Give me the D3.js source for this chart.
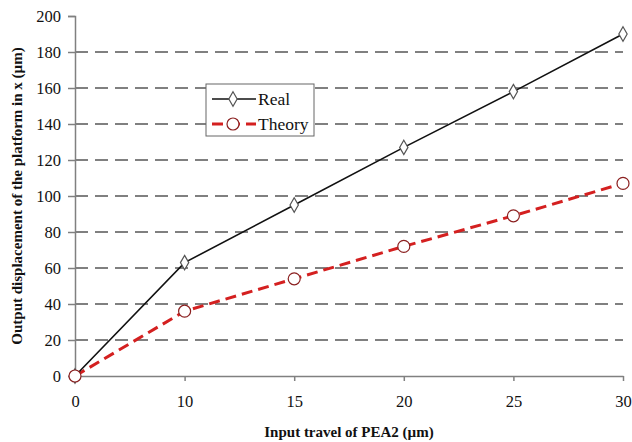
<!DOCTYPE html>
<html>
<head>
<meta charset="utf-8">
<script src="https://cdn.jsdelivr.net/npm/d3@7"></script>
<style>
  body { margin: 0; background: #fff; }
  svg { display: block; }
  text { font-family: "Liberation Serif", "DejaVu Serif", serif; }
</style>
</head>
<body>
<div id="chart"></div>
<script>
  // 数据
  const categories = ['0', '10', '15', '20', '25', '30'];
  const realValues = [0, 63, 95, 127, 158, 190];
  const theoryValues = [0, 36, 54, 72, 89, 107];
  const yTicks = [0, 20, 40, 60, 80, 100, 120, 140, 160, 180, 200];

  const width = 632, height = 442;
  const margin = { left: 75, right: 9, top: 16, bottom: 66 };

  const svg = d3.select('#chart').append('svg')
    .attr('width', width)
    .attr('height', height);

  const x = d3.scalePoint()
    .domain(categories)
    .range([margin.left, width - margin.right]);

  const y = d3.scaleLinear()
    .domain([0, 200])
    .range([height - margin.bottom, margin.top]);

  // 网格线
  svg.append('g')
    .selectAll('line')
    .data(yTicks.filter(d => d > 0 && d < 200))
    .enter()
    .append('line')
    .attr('x1', margin.left)
    .attr('x2', width - margin.right)
    .attr('y1', d => y(d))
    .attr('y2', d => y(d))
    .attr('stroke', '#808080')
    .attr('stroke-width', 2)
    .attr('stroke-dasharray', '13,7');

  // Y 轴
  const yAxis = svg.append('g')
    .attr('transform', `translate(${margin.left},0)`)
    .call(d3.axisLeft(y).tickValues(yTicks).tickSize(7).tickPadding(7));
  yAxis.select('.domain').attr('stroke', '#808080').attr('stroke-width', 1.5);
  yAxis.selectAll('.tick line').attr('stroke', '#808080').attr('stroke-width', 1.5);
  yAxis.selectAll('.tick text')
    .attr('font-size', '16.5px')
    .attr('font-family', '"Liberation Serif", serif')
    .attr('fill', '#111');

  // X 轴
  const xAxis = svg.append('g')
    .attr('transform', `translate(0,${y(0)})`)
    .call(d3.axisBottom(x).tickSize(5).tickSizeOuter(0).tickPadding(14));
  xAxis.select('.domain').attr('stroke', '#808080').attr('stroke-width', 1.5);
  xAxis.selectAll('.tick line').attr('stroke', '#808080').attr('stroke-width', 1.5);
  xAxis.selectAll('.tick text')
    .attr('font-size', '16.5px')
    .attr('font-family', '"Liberation Serif", serif')
    .attr('fill', '#111');

  // 轴标题
  svg.append('text')
    .attr('x', (margin.left + width - margin.right) / 2)
    .attr('y', 437)
    .attr('text-anchor', 'middle')
    .attr('font-size', '15px')
    .attr('font-weight', 'bold')
    .attr('fill', '#111')
    .text('Input travel of PEA2 (µm)');

  svg.append('text')
    .attr('transform', `translate(22,${y(100)}) rotate(-90)`)
    .attr('text-anchor', 'middle')
    .attr('font-size', '15px')
    .attr('font-weight', 'bold')
    .attr('fill', '#111')
    .text('Output displacement of the platform in x (µm)');

  const line = d3.line()
    .x((d, i) => x(categories[i]))
    .y(d => y(d));

  // Theory 曲线
  svg.append('path')
    .datum(theoryValues)
    .attr('d', line)
    .attr('fill', 'none')
    .attr('stroke', '#d42020')
    .attr('stroke-width', 3)
    .attr('stroke-dasharray', '11,6');

  // Real 曲线
  svg.append('path')
    .datum(realValues)
    .attr('d', line)
    .attr('fill', 'none')
    .attr('stroke', '#111')
    .attr('stroke-width', 1.6);

  const diamond = d3.symbol().type(d3.symbolDiamond).size(60);

  svg.append('g')
    .selectAll('path')
    .data(realValues)
    .enter()
    .append('path')
    .attr('d', diamond)
    .attr('transform', (d, i) => `translate(${x(categories[i])},${y(d)})`)
    .attr('fill', '#fff')
    .attr('stroke', '#555')
    .attr('stroke-width', 1.2);

  svg.append('g')
    .selectAll('circle')
    .data(theoryValues)
    .enter()
    .append('circle')
    .attr('cx', (d, i) => x(categories[i]))
    .attr('cy', d => y(d))
    .attr('r', 6)
    .attr('fill', '#fff')
    .attr('stroke', '#8b2020')
    .attr('stroke-width', 1.2);

  // 图例
  const legend = svg.append('g').attr('transform', 'translate(206,84)');
  legend.append('rect')
    .attr('width', 108)
    .attr('height', 52)
    .attr('fill', '#fff')
    .attr('stroke', '#666')
    .attr('stroke-width', 1);

  legend.append('line')
    .attr('x1', 6).attr('x2', 50).attr('y1', 15).attr('y2', 15)
    .attr('stroke', '#111').attr('stroke-width', 1.6);
  legend.append('path')
    .attr('d', diamond)
    .attr('transform', 'translate(27,15)')
    .attr('fill', '#fff').attr('stroke', '#555').attr('stroke-width', 1.2);
  legend.append('text')
    .attr('x', 52).attr('y', 21)
    .attr('font-size', '17.5px').attr('fill', '#111')
    .text('Real');

  legend.append('line')
    .attr('x1', 6).attr('x2', 50).attr('y1', 40).attr('y2', 40)
    .attr('stroke', '#d42020').attr('stroke-width', 3)
    .attr('stroke-dasharray', '11,6');
  legend.append('circle')
    .attr('cx', 27).attr('cy', 40).attr('r', 6)
    .attr('fill', '#fff').attr('stroke', '#8b2020').attr('stroke-width', 1.2);
  legend.append('text')
    .attr('x', 52).attr('y', 46)
    .attr('font-size', '17.5px').attr('fill', '#111')
    .text('Theory');
</script>
</body>
</html>
